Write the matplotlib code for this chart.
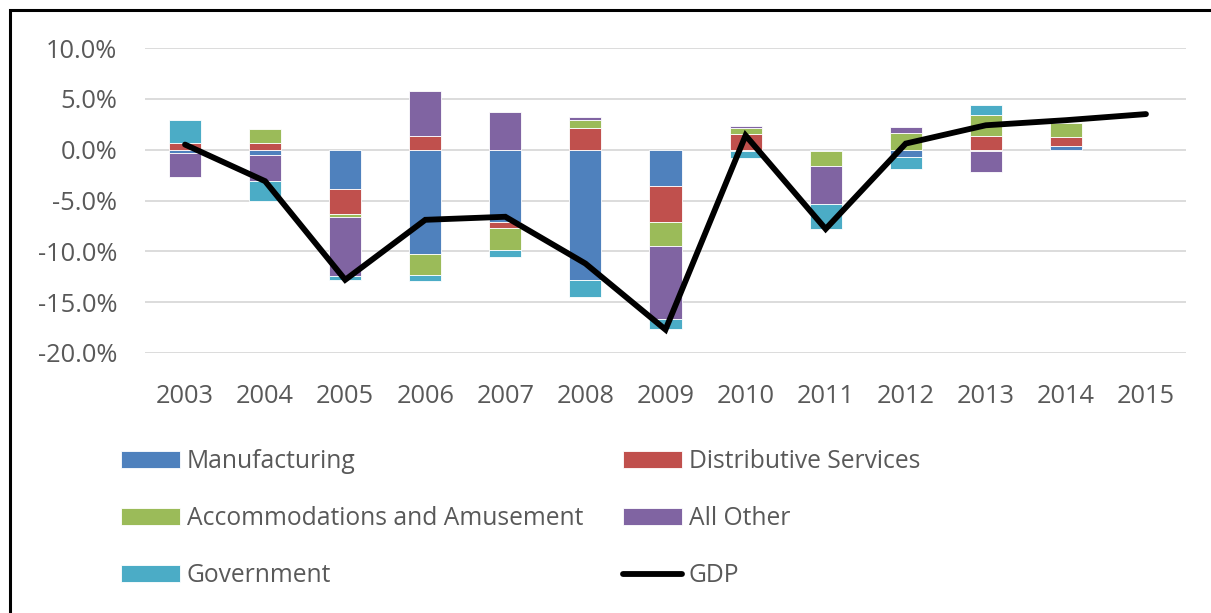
import matplotlib.pyplot as plt
import matplotlib.patches as mpatches
from matplotlib.ticker import FuncFormatter, MultipleLocator
import numpy as np

# Data (percent contribution by sector, GDP growth)
years = ["2003", "2004", "2005", "2006", "2007", "2008", "2009",
         "2010", "2011", "2012", "2013", "2014", "2015"]
manufacturing = [-0.3, -0.5, -3.9, -10.3, -7.1, -12.8, -3.6, -0.15, -0.15, -0.7, -0.1, 0.35, 0.0]
distributive = [0.7, 0.7, -2.4, 1.3, -0.6, 2.1, -3.5, 1.5, 0.0, 0.0, 1.3, 0.85, 0.0]
accommodations = [0.0, 1.3, -0.3, -2.0, -2.2, 0.8, -2.4, 0.65, -1.5, 1.6, 2.1, 1.4, 0.0]
all_other = [-2.4, -2.6, -5.8, 4.5, 3.7, 0.3, -7.2, 0.15, -3.7, 0.6, -2.1, 0.0, 0.0]
government = [2.2, -1.9, -0.4, -0.6, -0.7, -1.7, -0.9, -0.7, -2.5, -1.2, 1.0, 0.0, 0.0]
gdp = [0.5, -3.1, -12.8, -6.9, -6.6, -11.2, -17.7, 1.4, -7.8, 0.6, 2.4, 2.9, 3.5]

series_names = ["Manufacturing", "Distributive Services", "Accommodations and Amusement",
                "All Other", "Government"]
series_values = [manufacturing, distributive, accommodations, all_other, government]
series_colors = ["#4F81BD", "#C0504D", "#9BBB59", "#8064A2", "#4BACC6"]

text_color = "#595959"
plt.rcParams["font.family"] = ["Open Sans", "DejaVu Sans"]

W, H = 1211, 613
fig = plt.figure(figsize=(W / 100, H / 100), dpi=100)
ax = fig.add_axes([145 / W, 1 - 353 / H, (1186 - 145) / W, (353 - 48) / H])

x = np.arange(len(years))
pos_base = np.zeros(len(years))
neg_base = np.zeros(len(years))
bar_handles = []
for name, vals, col in zip(series_names, series_values, series_colors):
    vals = np.array(vals)
    bottoms = np.where(vals >= 0, pos_base, neg_base)
    keep = vals != 0
    b = ax.bar(x[keep], vals[keep], 0.4, bottom=bottoms[keep], color=col,
               edgecolor="white", linewidth=0.6, label=name, zorder=2)
    bar_handles.append(b)
    pos_base = pos_base + np.where(vals > 0, vals, 0)
    neg_base = neg_base + np.where(vals < 0, vals, 0)

line, = ax.plot(x, gdp, color="black", linewidth=4.2, solid_capstyle="round",
                solid_joinstyle="miter", label="GDP", zorder=3)

ax.set_xlim(-0.5, len(years) - 0.5)
ax.set_ylim(-20, 10)
ax.yaxis.set_major_locator(MultipleLocator(5))
ax.yaxis.set_major_formatter(FuncFormatter(lambda v, p: f"{v:.1f}%"))
ax.set_xticks(x)
ax.set_xticklabels(years)
ax.grid(axis="y", color="#D9D9D9", linewidth=1.3, zorder=0)
ax.set_axisbelow(True)
for s in ax.spines.values():
    s.set_visible(False)
ax.tick_params(axis="both", length=0, colors=text_color, labelsize=18.3)
ax.tick_params(axis="y", pad=20)
ax.tick_params(axis="x", pad=22)

# Legend laid out as two columns, filled row by row like the original
leg_kw = dict(frameon=False, fontsize=17.7, labelcolor=text_color, handlelength=2.4,
              handleheight=0.66, handletextpad=0.28, labelspacing=1.3,
              borderpad=0, borderaxespad=0, loc="center left")
leg1 = fig.legend([bar_handles[0], bar_handles[2], bar_handles[4]],
                  [series_names[0], series_names[2], series_names[4]],
                  bbox_to_anchor=(121 / W, 1 - 518.5 / H), **leg_kw)
leg2 = fig.legend([bar_handles[1], bar_handles[3], line],
                  [series_names[1], series_names[3], "GDP"],
                  bbox_to_anchor=(623 / W, 1 - 518.5 / H), **leg_kw)

# Frame border (left and top visible)
border = mpatches.Rectangle((9.5 / W, -0.1), 1.2, 1 - 10 / H + 0.1, transform=fig.transFigure,
                            fill=False, edgecolor="black", linewidth=2.2)
fig.patches.append(border)

fig.savefig("out.png", dpi=100)
